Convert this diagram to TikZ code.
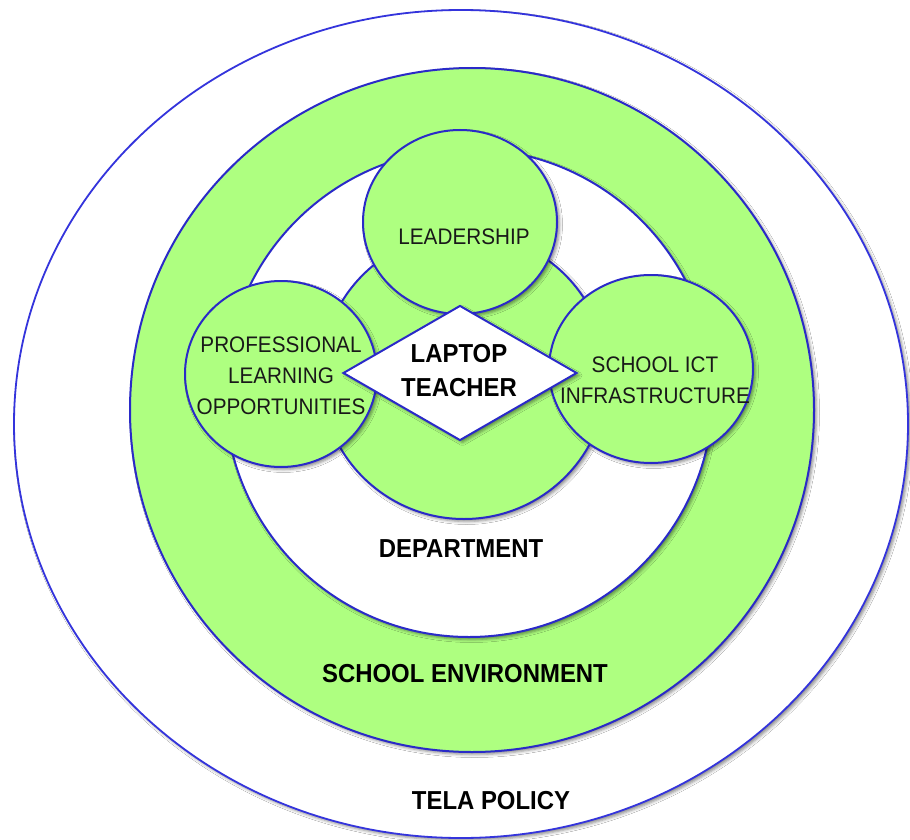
\documentclass[tikz,border=0pt]{standalone}
\usepackage{fontspec}
\setmainfont{Liberation Sans}
% slightly condensed face for the labels
\newfontfamily\labelface[FakeStretch=0.92]{Liberation Sans}
\usetikzlibrary{shapes.geometric,shadows.blur}
\definecolor{ringgreen}{HTML}{AEFF80}
\definecolor{ringblue}{HTML}{2A2AC8}
\definecolor{outerblue}{HTML}{3434DC}

\begin{document}
\begin{tikzpicture}[x=1pt,y=-1pt,
  softshadow/.style={blur shadow={shadow xshift=2.5pt,shadow yshift=-2.5pt,
      shadow blur radius=3pt,shadow opacity=45}},
  ring/.style={ellipse, draw=ringblue, line width=2pt, inner sep=0pt, softshadow},
  greenring/.style={ring, fill=ringgreen},
  whitering/.style={ring, fill=white},
  plain/.style={font=\labelface\fontsize{22.5}{31}\selectfont, align=center, inner sep=0pt, text=black!90},
  heavy/.style={font=\labelface\bfseries\fontsize{26}{34}\selectfont, align=center, inner sep=0pt, text=black},
]
\useasboundingbox (0,0) rectangle (910,840);
\fill[white] (0,0) rectangle (910,840);

% nested context rings
\node[whitering, draw=outerblue, line width=1.8pt,
      minimum width=894pt, minimum height=828pt] (policy) at (461,424) {};
\node[greenring, minimum width=684pt, minimum height=684pt] (school) at (472,410) {};
\node[whitering, minimum width=488pt, minimum height=488pt] (dept) at (469,393) {};

% core and the three influences
\node[greenring, minimum width=286pt, minimum height=286pt] (core) at (464,376) {};
\node[greenring, minimum width=194pt, minimum height=184pt] (lead) at (460,222) {};
\node[greenring, minimum width=192pt, minimum height=186pt] (prof) at (281,374) {};
\node[greenring, minimum width=204pt, minimum height=188pt] (ict) at (651,369) {};

% the teacher at the centre
\node[diamond, draw=ringblue, line width=2pt, fill=white, inner sep=0pt,
      minimum width=234pt, minimum height=135pt, softshadow] (teacher) at (460,373) {};

% labels
\node[plain] (leadtxt) at (464,237) {LEADERSHIP};
\node[plain] (proftxt) at (281,376) {PROFESSIONAL\\LEARNING\\OPPORTUNITIES};
\node[plain] (icttxt) at (655,380) {SCHOOL ICT\\INFRASTRUCTURE};
\node[heavy] (teachtxt) at (459,371) {LAPTOP\\TEACHER};
\node[heavy] (depttxt) at (461,549) {DEPARTMENT};
\node[heavy] (envtxt) at (465,674) {SCHOOL ENVIRONMENT};
\node[heavy] (policytxt) at (491,801) {TELA POLICY};
\end{tikzpicture}
\end{document}
